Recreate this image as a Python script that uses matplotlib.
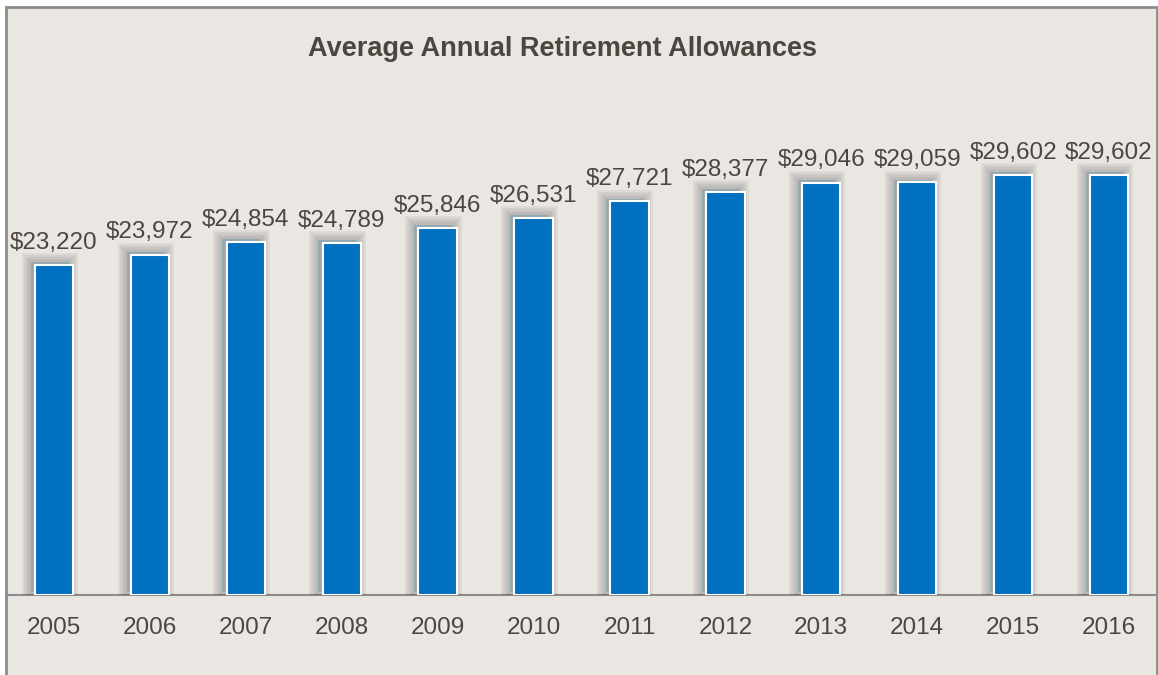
import numpy as np
import matplotlib.pyplot as plt
from matplotlib import patheffects
from matplotlib.patches import Rectangle

plt.rcParams['font.family'] = ['Liberation Sans', 'DejaVu Sans']

years = ['2005', '2006', '2007', '2008', '2009', '2010',
         '2011', '2012', '2013', '2014', '2015', '2016']
allowances = [23220, 23972, 24854, 24789, 25846, 26531,
              27721, 28377, 29046, 29059, 29602, 29602]

bg = '#EAE7E3'
text_col = '#4D4640'
bar_col = '#0070C0'
edge_gray = '#8C8C8C'

W, H = 1158, 675
fig = plt.figure(figsize=(W / 100, H / 100), dpi=100, facecolor='white')

# panel background with grey frame (open at the bottom)
fig.patches.append(Rectangle((6 / W, -0.05), 1151 / W, 1.05 - 7 / H,
                             transform=fig.transFigure, facecolor=bg,
                             edgecolor=edge_gray, linewidth=2, zorder=-5))

ax = fig.add_axes([6 / W, (H - 595) / H, 1151 / W, (595 - 98) / H])
ax.set_facecolor('none')
ax.set_zorder(2)

# soft shadow behind each bar, falling up and to the left
shadow = [patheffects.Stroke(offset=(-3, 2), linewidth=w, foreground='black', alpha=0.05)
          for w in (13, 10, 7, 4)] + [patheffects.Normal()]

x = np.arange(len(years))
bars = ax.bar(x, allowances, width=0.4, color=bar_col, edgecolor='white',
              linewidth=1.5, zorder=3)
for b in bars:
    b.set_path_effects(shadow)

for xi, v in zip(x, allowances):
    ax.annotate(f'${v:,}', (xi, v), xytext=(0, 8), textcoords='offset points',
                ha='center', va='bottom', fontsize=17.5, color=text_col)

ax.set_xlim(-0.5, len(years) - 0.5)
ax.set_ylim(0, 35000)
ax.set_yticks([])
ax.set_xticks(x)
ax.set_xticklabels(years, fontsize=17.5, color=text_col)
ax.tick_params(axis='x', length=0, pad=16)
for s in ('top', 'left', 'right'):
    ax.spines[s].set_visible(False)
ax.spines['bottom'].set_color(edge_gray)
ax.spines['bottom'].set_linewidth(1.5)

fig.text(563 / W, 1 - 49 / H, 'Average Annual Retirement Allowances',
         ha='center', va='center', fontsize=19.5, fontweight='bold', color=text_col)

fig.savefig('out.png', dpi=100, facecolor='white')
